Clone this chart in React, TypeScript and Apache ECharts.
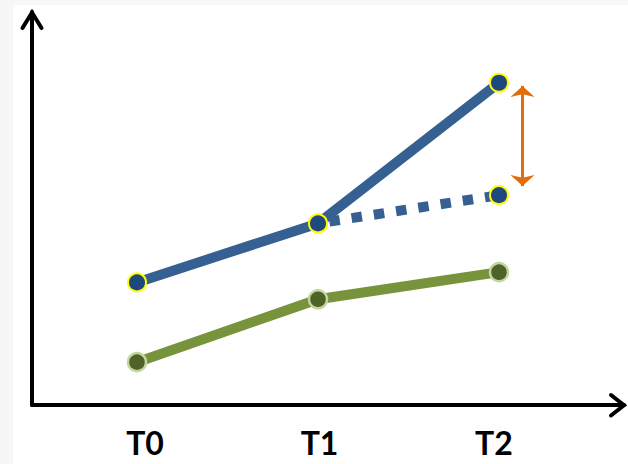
import React, { useEffect, useRef } from 'react';
import * as echarts from 'echarts';

// Time points and the three trajectories
const categories = ['T0', 'T1', 'T2'];
const actualValues = [31.2, 46.2, 82.0];
const expectedValues = [null, 46.2, 53.4];
const controlValues = [10.9, 26.9, 33.8];
// Vertical gap marker between actual and expected at T2
const gapSpan = [81.2, 55.7];
const gapAt = 2.13;

const BLUE_LINE = '#376092';
const BLUE_DOT = '#1f497d';
const YELLOW = '#ffff00';
const GREEN_LINE = '#77933c';
const GREEN_DOT = '#4f6228';
const GREEN_RING = '#c3d69b';
const ORANGE = '#e46c0a';

export default function App() {
  const ref = useRef<HTMLDivElement>(null);

  useEffect(() => {
    const chart = echarts.init(ref.current!, null, { renderer: 'svg' });
    const toPoints = (vals: (number | null)[]) =>
      vals
        .map((v, i) => (v === null ? null : [i, v]))
        .filter((p) => p !== null);

    const dotStyle = {
      color: BLUE_DOT,
      borderColor: YELLOW,
      borderWidth: 2,
    };

    chart.setOption({
      animation: false,
      backgroundColor: '#f7f7f7',
      grid: { left: 32, right: 4, top: 12, bottom: 59 },
      xAxis: [
        {
          type: 'value',
          min: -0.58,
          max: 2.6906,
          axisLine: { show: true, onZero: false, lineStyle: { color: '#000', width: 4 } },
          axisTick: { show: false },
          axisLabel: { show: false },
          splitLine: { show: false },
        },
        {
          type: 'value',
          position: 'bottom',
          min: -0.6476,
          max: 2.745,
          axisLine: { show: false },
          axisTick: { show: false },
          splitLine: { show: false },
          axisLabel: {
            customValues: [0, 1, 2],
            formatter: (v: number) => categories[Math.round(v)],
            fontFamily: 'Lato',
            fontWeight: 'bold',
            fontSize: 32,
            lineHeight: 32,
            color: '#000',
            margin: 21,
          },
        },
      ],
      yAxis: {
        type: 'value',
        min: 0,
        max: 100,
        axisLine: { show: true, onZero: false, lineStyle: { color: '#000', width: 4 } },
        axisTick: { show: false },
        axisLabel: { show: false },
        splitLine: { show: false },
      },
      graphic: [
        {
          type: 'rect',
          z: -10,
          silent: true,
          shape: { x: 13, y: 5, width: 615, height: 459 },
          style: { fill: '#ffffff' },
        },
        {
          type: 'polyline',
          z: 10,
          silent: true,
          shape: { points: [[22.5, 28], [32, 12.5], [41.5, 28]] },
          style: { stroke: '#000', lineWidth: 4, fill: null, lineCap: 'round', lineJoin: 'miter' },
        },
        {
          type: 'polyline',
          z: 10,
          silent: true,
          shape: { points: [[611, 395], [624, 405.3], [611, 415.5]] },
          style: { stroke: '#000', lineWidth: 4, fill: null, lineCap: 'round', lineJoin: 'miter' },
        },
      ],
      series: [
        {
          name: 'Expected',
          type: 'line',
          data: toPoints(expectedValues),
          symbol: 'circle',
          symbolSize: 18,
          itemStyle: dotStyle,
          lineStyle: { color: BLUE_LINE, width: 10, type: [10.5, 12], dashOffset: 10.5, cap: 'butt' },
          z: 2,
          markLine: {
            silent: true,
            symbol: ['arrow', 'arrow'],
            symbolSize: [18, 11],
            label: { show: false },
            lineStyle: { color: ORANGE, width: 3, type: 'solid' },
            data: [[{ coord: [gapAt, gapSpan[0]] }, { coord: [gapAt, gapSpan[1]] }]],
          },
        },
        {
          name: 'Actual',
          type: 'line',
          data: toPoints(actualValues),
          symbol: 'circle',
          symbolSize: 18,
          itemStyle: dotStyle,
          lineStyle: { color: BLUE_LINE, width: 10 },
          z: 3,
        },
        {
          name: 'Control',
          type: 'line',
          data: toPoints(controlValues),
          symbol: 'circle',
          symbolSize: 18,
          itemStyle: { color: GREEN_DOT, borderColor: GREEN_RING, borderWidth: 2.5 },
          lineStyle: { color: GREEN_LINE, width: 10 },
          z: 3,
        },
      ],
    });

    return () => chart.dispose();
  }, []);

  return (
    <div
      ref={ref}
      style={{ position: 'absolute', left: 0, top: 0, width: 628, height: 464 }}
    />
  );
}
